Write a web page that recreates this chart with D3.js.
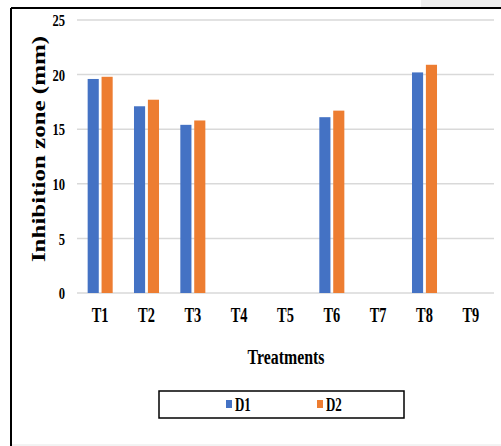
<!DOCTYPE html>
<html>
<head>
<meta charset="utf-8">
<script src="https://cdn.jsdelivr.net/npm/d3@7"></script>
<style>
  body { margin: 0; background: #fff; }
  text { font-family: "Liberation Serif", "Times New Roman", serif; font-weight: bold; fill: #000; }
</style>
</head>
<body>
<div id="chart"></div>
<script>
// chart data
const treatments = ["T1", "T2", "T3", "T4", "T5", "T6", "T7", "T8", "T9"];
const seriesNames = ["D1", "D2"];
const d1Values = [19.6, 17.1, 15.4, 0, 0, 16.1, 0, 20.2, 0];
const d2Values = [19.8, 17.7, 15.8, 0, 0, 16.7, 0, 20.9, 0];
const yTicks = [0, 5, 10, 15, 20, 25];
const colors = ["#4472C4", "#ED7D31"];

const width = 501, height = 446;
const squeeze = 0.72; // the source picture is narrowed horizontally

const svg = d3.select("#chart").append("svg")
    .attr("width", width)
    .attr("height", height);

// frame of the figure
svg.append("rect").attr("x", 421).attr("y", 0).attr("width", 80).attr("height", 7).attr("fill", "#efefef");
svg.append("line").attr("x1", 11).attr("x2", 501).attr("y1", 8).attr("y2", 8).attr("stroke", "#000").attr("stroke-width", 2);
svg.append("line").attr("x1", 11).attr("x2", 11).attr("y1", 8).attr("y2", 446).attr("stroke", "#000").attr("stroke-width", 2);
svg.append("line").attr("x1", 12).attr("x2", 501).attr("y1", 445).attr("y2", 445).attr("stroke", "#e6e6e6").attr("stroke-width", 1);

const x = d3.scaleBand().domain(treatments).range([77, 494]).paddingInner(0.46).paddingOuter(0.23);
const x1 = d3.scaleBand().domain(seriesNames).range([0, x.bandwidth()]).paddingInner(0.2);
const y = d3.scaleLinear().domain([0, 25]).range([293, 20]);

// gridlines
svg.append("g")
    .selectAll("line")
    .data(yTicks)
    .join("line")
    .attr("x1", 77).attr("x2", 494)
    .attr("y1", d => y(d)).attr("y2", d => y(d))
    .attr("stroke", "#d9d9d9")
    .attr("stroke-width", 1.5);

// y axis labels
const yAxis = svg.append("g")
    .attr("transform", "translate(77,0)")
    .call(d3.axisLeft(y).tickValues(yTicks).tickSize(0).tickPadding(12));
yAxis.select(".domain").remove();
yAxis.selectAll("text")
    .style("font-size", "17.5px")
    .attr("font-family", null)
    .attr("x", 0)
    .attr("transform", `translate(-12,0) scale(${squeeze},1)`);

// bars
const rows = treatments.map((t, i) => ({t, vals: [d1Values[i], d2Values[i]]}));
svg.append("g")
    .selectAll("g")
    .data(rows)
    .join("g")
    .attr("transform", d => `translate(${x(d.t)},0)`)
    .selectAll("rect")
    .data(d => d.vals.map((v, j) => ({key: seriesNames[j], v, j})))
    .join("rect")
    .attr("x", d => x1(d.key))
    .attr("width", x1.bandwidth())
    .attr("y", d => y(d.v))
    .attr("height", d => y(0) - y(d.v))
    .attr("fill", d => colors[d.j]);

// x axis labels
const xAxis = svg.append("g")
    .attr("transform", `translate(0,${y(0)})`)
    .call(d3.axisBottom(x).tickSize(0).tickPadding(0));
xAxis.select(".domain").remove();
xAxis.selectAll("text")
    .style("font-size", "20px")
    .attr("font-family", null)
    .attr("dy", null)
    .attr("y", 29)
    .attr("transform", `scale(${squeeze},1)`);

// axis titles
svg.append("text")
    .attr("transform", `translate(286,364) scale(${squeeze},1)`)
    .attr("text-anchor", "middle")
    .style("font-size", "22px")
    .text("Treatments");

svg.append("text")
    .attr("transform", `translate(45,149) rotate(-90) scale(1,${squeeze})`)
    .attr("text-anchor", "middle")
    .style("font-size", "25px")
    .text("Inhibition zone (mm)");

// legend
const legend = svg.append("g");
legend.append("rect")
    .attr("x", 159).attr("y", 391).attr("width", 245).attr("height", 27)
    .attr("fill", "#fff").attr("stroke", "#000").attr("stroke-width", 1.5);
const legendX = [226, 317];
seriesNames.forEach((name, i) => {
    legend.append("rect")
        .attr("x", legendX[i]).attr("y", 400).attr("width", 6).attr("height", 8)
        .attr("fill", colors[i]);
    legend.append("text")
        .attr("transform", `translate(${legendX[i] + 9},411) scale(${squeeze},1)`)
        .style("font-size", "18px")
        .text(name);
});
</script>
</body>
</html>
